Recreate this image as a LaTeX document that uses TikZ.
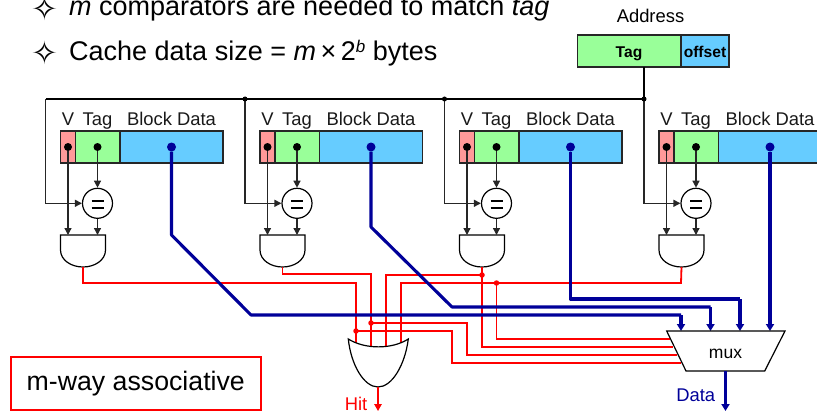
\documentclass[tikz,border=0pt]{standalone}
\usepackage{fontspec}
\setmainfont{Liberation Sans}
\newfontfamily\djv{DejaVu Sans}
\usetikzlibrary{arrows.meta,calc}
\definecolor{cv}{RGB}{255,153,153}
\definecolor{ct}{RGB}{153,255,153}
\definecolor{cd}{RGB}{102,204,255}
\definecolor{cb}{RGB}{0,0,153}
\definecolor{cr}{RGB}{255,0,0}
\tikzset{
 x=1pt,y=-1pt,
 cell/.style={draw=black!85,line width=1.2pt},
 wire/.style={line width=1.3pt,draw=black!85},
 warrow/.style={wire,-{Triangle[length=7pt,width=7pt]}},
 bus/.style={line width=3.1pt,draw=cb,line join=round},
 busarrow/.style={bus,-{Triangle[length=7pt,width=8pt]}},
 red1/.style={line width=1.8pt,draw=cr,line join=miter},
 bdot/.style={circle,fill=black,inner sep=0pt,minimum size=8pt},
 jdot/.style={circle,fill=black,inner sep=0pt,minimum size=5pt},
 rdot/.style={circle,fill=cr,inner sep=0pt,minimum size=5.5pt},
 bldot/.style={circle,fill=cb,inner sep=0pt,minimum size=9pt},
 lbl/.style={inner sep=0pt,anchor=base,font=\fontsize{18.4}{18.4}\selectfont,text=black!90},
 eqc/.style={circle,draw=black,line width=1.2pt,fill=white,minimum size=30pt,inner sep=0pt},
 gate/.style={draw=black,line width=1.2pt,fill=white},
 small/.style={inner sep=0pt,anchor=base,font=\fontsize{18.4}{18.4}\selectfont},
 boldl/.style={inner sep=0pt,anchor=base,font=\bfseries\fontsize{15.6}{15.6}\selectfont},
 big/.style={inner sep=0pt,anchor=base west,font=\fontsize{27}{27}\selectfont},
 star/.style={inner sep=0pt,anchor=base west,font=\djv\fontsize{32}{32}\selectfont},
}
\begin{document}
\begin{tikzpicture}
\useasboundingbox (0,0) rectangle (817,412);
% bullets
\node[star] (b1) at (31.5,21) {\char"2727};
\node[big] (t1) at (69,16) {\textit{m} comparators are needed to match \textit{tag}};
\node[star] (b2) at (31.5,65) {\char"2727};
\node[big] (t2) at (69,61) {Cache data size = \textit{m}\,×\,2\raisebox{9pt}{\fontsize{17}{17}\selectfont\textit{b}} bytes};
% address
\node[small] (addr) at (650.5,22.7) {Address};
\draw[cell,fill=ct] (577.5,35) rectangle (681,67);
\draw[cell,fill=cd] (681,35) rectangle (729,67);
\node[boldl] (atag) at (629,57.3) {Tag};
\node[boldl] (aoff) at (705,57.3) {offset};
\coordinate (A) at (644,67);
% bus
\coordinate (B4) at (644,99);
\coordinate (B3) at (444.5,99);
\coordinate (B2) at (245,99);
\coordinate (B1) at (45.5,99);
\draw[line width=1.7pt,black] (A) -- (B4);
\draw[line width=1.3pt,black] (B4) -- (B1);
\foreach \i/\o in {1/0,2/199.5,3/399,4/598.5}{
 \begin{scope}[shift={(\o,0)}]
  \node[lbl] (v\i) at (68,125) {V};
  \node[lbl] (g\i) at (97.5,125) {Tag};
  \node[lbl] (d\i) at (171.5,125) {Block Data};
  \draw[cell,fill=cv] (60.5,131) rectangle (75.5,163);
  \draw[cell,fill=ct] (75.5,131) rectangle (120,163);
  \draw[cell,fill=cd] (120,131) rectangle (223,163);
  \node[eqc] (eq\i) at (97.5,203.3) {};
  \draw[line width=1.7pt] (91.5,201.3) -- (103.5,201.3) (91.5,207.7) -- (103.5,207.7);
  \coordinate (gt\i) at (97.5,235);
  \coordinate (gv\i) at (68,235);
  \draw[gate] (60.5,235) -- (105.5,235) -- (105.5,250) .. controls (105.5,260) and (95,267) .. (83,267) .. controls (71,267) and (60.5,260) .. (60.5,250) -- cycle;
  \coordinate (go\i) at (83,267);
  \node[bdot] (pv\i) at (68,147) {};
  \node[bdot] (pt\i) at (97.5,147) {};
  \node[bldot] (pd\i) at (171.5,147) {};
  \draw[warrow] (pv\i) -- (gv\i);
  \draw[warrow] (pt\i) -- (eq\i);
  \draw[warrow] (eq\i) -- (gt\i);
  \coordinate (l\i) at (45.5,99);
  \draw[wire] (l\i) -- (45.5,203.3) -- (60,203.3) coordinate (ll\i);
  \draw[warrow] (ll\i) -- (eq\i);
 \end{scope}
}
\node[jdot] (j2) at (B2) {};
\node[jdot] (j3) at (B3) {};
\node[jdot] (j4) at (B4) {};
\coordinate (M) at (725.5,371);
% red wires
\coordinate (o1) at (356,343);
\coordinate (o2) at (371,346);
\coordinate (o3) at (386,346);
\coordinate (o4) at (401,343);
\draw[red1] (go1) |- (356,283) -- (o1);
\draw[red1] (go2) |- (371,274.3) -- (o2);
\draw[red1] (o3) -- (386,275) -- (482,275);
\draw[red1] (o4) -- (401,283) -- (681,283) -- (go4);
\draw[red1] (go3) -- (482,347) -- (673,347);
\draw[red1] (356,331) -- (452,331) -- (452,363) -- (681,363);
\draw[red1] (371,323) -- (467,323) -- (467,355) -- (677,355);
\draw[red1] (496.5,283) -- (496.5,339) -- (670,339);
\node[rdot] (r1) at (356,331) {};
\node[rdot] (r2) at (371,323) {};
\node[rdot] (r3) at (482,275) {};
\node[rdot] (r4) at (496.5,283) {};
% blue
\draw[bus] (pd1) -- (171.5,235) -- (251,315) -- (681,315) coordinate (e1);
\draw[bus] (pd2) -- (371,227) -- (452,307) -- (710.5,307) coordinate (e2);
\draw[bus] (pd3) -- (570.5,299) -- (740,299) coordinate (e3);
\draw[busarrow] (e1) -- (681,331);
\draw[busarrow] (e2) -- (710.5,331);
\draw[busarrow] (e3) -- (740,331);
\draw[busarrow] (pd4) -- (770,331);
% mux shape
\draw[gate] (666.7,331) -- (785,331) -- (764.7,371) -- (686,371) -- cycle;
\node[inner sep=0pt,anchor=base,font=\fontsize{17.5}{17.5}\selectfont] (muxl) at (725.5,358) {mux};
\coordinate (DO) at (725.5,411);
\draw[busarrow] (M) -- (DO);
\node[small,text=cb] (dl) at (695.7,401.5) {Data};
% OR
\draw[gate] (348.3,339) .. controls (365,349.5) and (392,349.5) .. (408.3,339) .. controls (405,365) and (392,387) .. (378,387) .. controls (364,387) and (351,365) .. (348.3,339) -- cycle;
\coordinate (O) at (378,387);
\coordinate (H) at (378,411);
\draw[-{Triangle[length=7pt,width=7.5pt]},draw=cr,fill=cr,line width=1.4pt] (O) -- (H);
\node[small,text=cr] (hit) at (356,410) {Hit};
% box
\node[draw=cr,line width=1.6pt,minimum width=250pt,minimum height=53pt,inner sep=0pt,anchor=north west,font=\fontsize{26.7}{26.7}\selectfont] (box) at (10,356) {m-way associative};
\end{tikzpicture}
\end{document}
